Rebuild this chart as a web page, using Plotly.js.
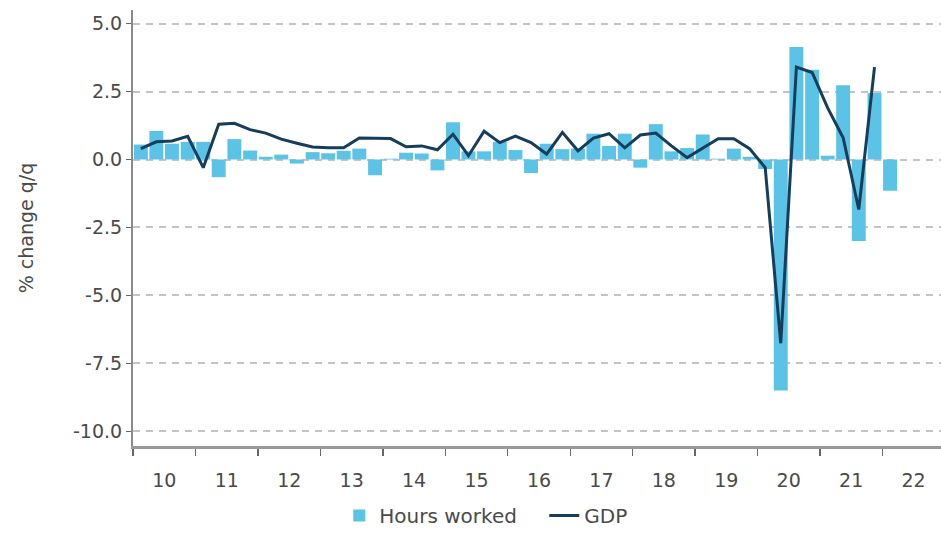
<!DOCTYPE html>
<html>
<head>
<meta charset="utf-8">
<script src="https://cdn.plot.ly/plotly-3.0.1.min.js"></script>
<style>html,body{margin:0;padding:0;background:#fff;}#chart{width:941px;height:535px;}</style>
</head>
<body>
<div id="chart"></div>
<script>
// Quarter start dates, 2010 Q1 .. 2022 Q1
var quarters = [
  "2010-01-01","2010-04-01","2010-07-01","2010-10-01",
  "2011-01-01","2011-04-01","2011-07-01","2011-10-01",
  "2012-01-01","2012-04-01","2012-07-01","2012-10-01",
  "2013-01-01","2013-04-01","2013-07-01","2013-10-01",
  "2014-01-01","2014-04-01","2014-07-01","2014-10-01",
  "2015-01-01","2015-04-01","2015-07-01","2015-10-01",
  "2016-01-01","2016-04-01","2016-07-01","2016-10-01",
  "2017-01-01","2017-04-01","2017-07-01","2017-10-01",
  "2018-01-01","2018-04-01","2018-07-01","2018-10-01",
  "2019-01-01","2019-04-01","2019-07-01","2019-10-01",
  "2020-01-01","2020-04-01","2020-07-01","2020-10-01",
  "2021-01-01","2021-04-01","2021-07-01","2021-10-01",
  "2022-01-01"
];

// Hours worked, % change q/q
var hoursWorked = [
  0.55, 1.05, 0.58, 0.65,
  0.65, -0.65, 0.75, 0.33,
  0.10, 0.18, -0.15, 0.27,
  0.23, 0.32, 0.40, -0.58,
  0.03, 0.25, 0.22, -0.40,
  1.37, 0.30, 0.30, 0.65,
  0.35, -0.50, 0.58, 0.38,
  0.40, 0.95, 0.50, 0.95,
  -0.30, 1.30, 0.30, 0.42,
  0.92, 0.03, 0.40, 0.10,
  -0.35, -8.50, 4.14, 3.30,
  0.14, 2.73, -3.00, 2.45,
  -1.15
];

// GDP, % change q/q (ends 2021 Q4)
var gdp = [
  0.40, 0.65, 0.68, 0.85,
  -0.30, 1.30, 1.33, 1.10,
  0.97, 0.75, 0.60, 0.46,
  0.43, 0.43, 0.79, 0.79,
  0.77, 0.47, 0.50, 0.36,
  0.93, 0.14, 1.04, 0.62,
  0.86, 0.62, 0.20, 1.00,
  0.32, 0.79, 0.95, 0.43,
  0.90, 0.97, 0.50, 0.07,
  0.42, 0.76, 0.76, 0.40,
  -0.30, -6.76, 3.40, 3.20,
  1.90, 0.80, -1.84, 3.40
];

var yTicks = [-10, -7.5, -5, -2.5, 0, 2.5, 5];
var yTickText = ["-10.0", "-7.5", "-5.0", "-2.5", "0.0", "2.5", "5.0"];

var tickFont = {family: "DejaVu Sans, Verdana, sans-serif", size: 19, color: "#4a4a4a"};
var legendFont = {family: "DejaVu Sans, Verdana, sans-serif", size: 20, color: "#4a4a4a"};

var traces = [
  {
    type: "bar",
    name: "Hours worked",
    x: quarters,
    y: hoursWorked,
    xperiod: "M3",
    xperiodalignment: "middle",
    marker: {color: "#5bc3e6", line: {width: 0}},
    hoverinfo: "x+y"
  },
  {
    type: "scatter",
    mode: "lines",
    name: "GDP",
    x: quarters.slice(0, gdp.length),
    y: gdp,
    xperiod: "M3",
    xperiodalignment: "middle",
    line: {color: "#163d5c", width: 3},
    hoverinfo: "x+y"
  }
];

var layout = {
  width: 941,
  height: 535,
  margin: {l: 133, r: 0, t: 10, b: 80},
  paper_bgcolor: "#ffffff",
  plot_bgcolor: "#ffffff",
  font: tickFont,
  bargap: 0.1,
  showlegend: true,
  legend: {
    orientation: "h",
    x: 0.509, xanchor: "center",
    y: -0.16, yanchor: "middle",
    font: legendFont,
    entrywidth: 160,
    entrywidthmode: "pixels",
    itemwidth: 30,
    traceorder: "normal"
  },
  xaxis: {
    type: "date",
    range: ["2009-12-31", "2022-12-10"],
    tick0: "2010-01-01",
    dtick: "M12",
    tickformat: "%y",
    ticklabelmode: "period",
    ticks: "outside",
    ticklen: 7,
    tickwidth: 1.5,
    tickcolor: "#666",
    ticklabelstandoff: 8,
    automargin: false,
    showline: true,
    linecolor: "#9a9a9a",
    linewidth: 3,
    showgrid: false,
    zeroline: false,
    tickfont: tickFont,
    fixedrange: true
  },
  yaxis: {
    range: [-10.54, 5.5],
    tickvals: yTicks,
    ticktext: yTickText,
    ticks: "outside",
    ticklen: 5,
    tickwidth: 1.5,
    tickcolor: "#666",
    showline: true,
    linecolor: "#8a8a8a",
    linewidth: 2,
    showgrid: true,
    gridcolor: "#c4c4c4",
    gridwidth: 2,
    griddash: "7px,6px",
    zeroline: false,
    tickfont: tickFont,
    automargin: false,
    title: {text: "% change q/q", font: tickFont, standoff: 34}
  }
};

Plotly.newPlot("chart", traces, layout, {displayModeBar: false, staticPlot: true});
</script>
</body>
</html>
